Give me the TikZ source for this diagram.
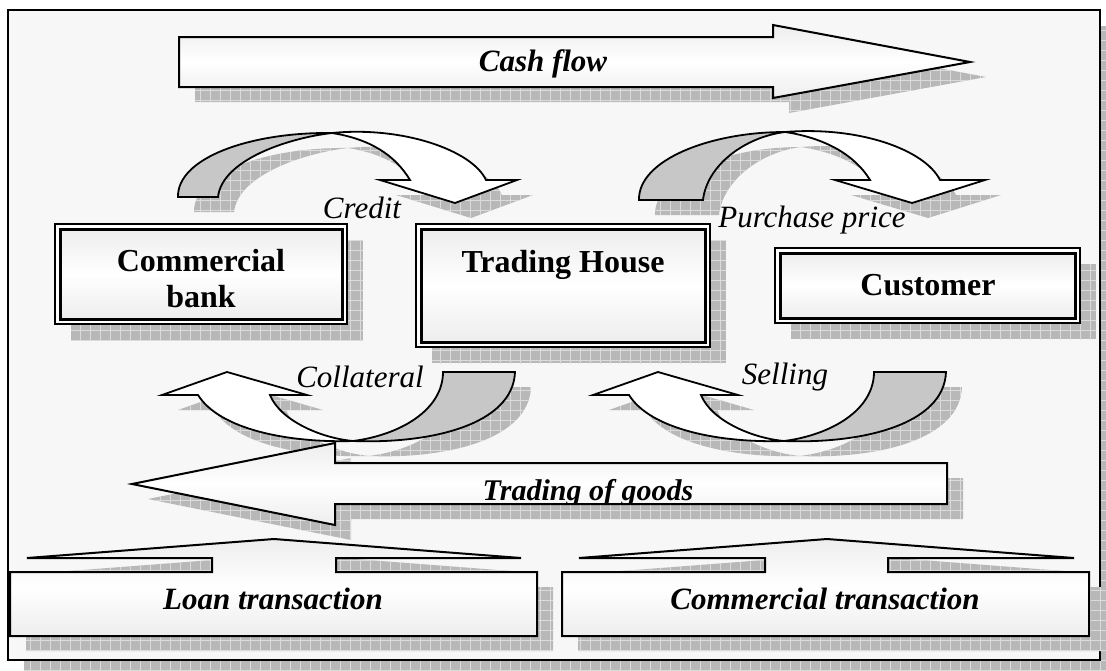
\documentclass[tikz,border=0pt]{standalone}
\usepackage{fontspec}
\setmainfont{Liberation Serif}
\usetikzlibrary{patterns.meta}
\pgfdeclarelayer{back}
\pgfdeclarelayer{shade}
\pgfdeclarelayer{rim}
\pgfsetlayers{back,shade,rim,main}

\tikzset{
  shadowfill/.style={fill=black!28, postaction={pattern={Hatch[distance=10pt,line width=0.6pt]}, pattern color=black!14}},
  flatarrow/.style={draw, line width=2pt, top color=black!7, bottom color=black!7, middle color=white},
  curvefront/.style={draw, line width=1.8pt, fill=white},
  curveback/.style={draw, line width=1.8pt, fill=black!22},
  innerbox/.style={draw, line width=3pt, top color=black!7, bottom color=black!7, middle color=white, inner sep=0pt, outer sep=0pt},
  outerrim/.style={draw, line width=1.8pt, fill=white},
  boxtext/.style={font=\fontsize{32}{37}\selectfont\bfseries, inner sep=0pt, anchor=base},
  flowtext/.style={font=\fontsize{31}{36}\selectfont\bfseries\itshape, inner sep=0pt, anchor=base},
  notetext/.style={font=\fontsize{31}{36}\selectfont\itshape, inner sep=0pt, anchor=base},
}

% outlines of the block arrows (x to the right, y downwards, in pt)
\newcommand\cashoutline{(179,37) -- (773,37) -- (773,25) -- (970,62) -- (773,98) -- (773,87) -- (179,87) -- cycle}
\newcommand\goodsoutline{(947,463) -- (335,463) -- (335,443) -- (132,484) -- (335,525) -- (335,504) -- (947,504) -- cycle}
\newcommand\loanoutline{(10,636) -- (10,572) -- (212,572) -- (212,558) -- (27,558) -- (274,539) -- (521,558) -- (336,558) -- (336,572) -- (537,572) -- (537,636) -- cycle}
\newcommand\tradeoutline{(562,636) -- (562,572) -- (765,572) -- (765,558) -- (579,558) -- (827,539) -- (1074,558) -- (888,558) -- (888,572) -- (1089,572) -- (1089,636) -- cycle}
% curved arrows: rear band and front band
\newcommand\creditrear{(178,197) .. controls (177,158) and (250,132) .. (332,133) .. controls (288,138) and (222,160) .. (218,197) -- cycle}
\newcommand\creditfront{(332,133) .. controls (402,126) and (472,150) .. (486,180) -- (517,180) -- (455,203) -- (380,180) -- (410,180) .. controls (395,155) and (370,139) .. (332,133) -- cycle}
\newcommand\pricerear{(639,200) .. controls (638,160) and (710,132) .. (785,132) .. controls (745,137) and (707,165) .. (703,200) -- cycle}
\newcommand\pricefront{(785,132) .. controls (860,126) and (925,150) .. (940,180) -- (985,180) -- (912,203) -- (835,180) -- (870,180) .. controls (855,155) and (825,138) .. (785,132) -- cycle}
\newcommand\backfront{(198,395) .. controls (220,430) and (290,443) .. (353,441) .. controls (320,438) and (280,420) .. (270,395) -- (307,395) -- (227,372) -- (162,395) -- cycle}
\newcommand\backrear{(353,441) .. controls (430,444) and (513,425) .. (515,372) -- (443,372) .. controls (443,410) and (400,435) .. (353,441) -- cycle}

\begin{document}
\begin{tikzpicture}[x=1pt, y=-1pt, line join=miter]
\useasboundingbox (0,0) rectangle (1106,670);

% outer frame
\begin{pgfonlayer}{back}
  \fill[shadowfill] (24,26) rectangle (1116,676);
  \draw[line width=2pt, fill=black!3] (8,10) rectangle (1100,660);
\end{pgfonlayer}

% drop shadows of the arrows
\begin{pgfonlayer}{shade}
  \begin{scope}[shift={(16,15)}]
    \fill[shadowfill] \cashoutline;
    \fill[shadowfill] \goodsoutline;
    \fill[shadowfill] \loanoutline;
    \fill[shadowfill] \tradeoutline;
    \fill[shadowfill] \creditrear;
    \fill[shadowfill] \creditfront;
    \fill[shadowfill] \pricerear;
    \fill[shadowfill] \pricefront;
    \fill[shadowfill] \backfront;
    \fill[shadowfill] \backrear;
    \begin{scope}[shift={(431,0)}]
      \fill[shadowfill] \backfront;
      \fill[shadowfill] \backrear;
    \end{scope}
  \end{scope}
\end{pgfonlayer}

% straight block arrows
\path[flatarrow] \cashoutline;
\path[flatarrow] \goodsoutline;
\path[flatarrow] \loanoutline;
\path[flatarrow] \tradeoutline;

% curved arrows above the parties
\path[curveback] \creditrear;
\path[curvefront] \creditfront;
\path[curveback] \pricerear;
\path[curvefront] \pricefront;

% curved arrows below the parties
\path[curveback] \backrear;
\path[curvefront] \backfront;
\begin{scope}[shift={(431,0)}]
  \path[curveback] \backrear;
  \path[curvefront] \backfront;
\end{scope}

% the three parties
\node[innerbox, minimum width=282pt, minimum height=90pt] (bank) at (201,274) {};
\node[innerbox, minimum width=284pt, minimum height=113pt] (house) at (563,285.5) {};
\node[innerbox, minimum width=295pt, minimum height=65pt] (customer) at (927.5,285.5) {};
\foreach \b in {bank,house,customer}{
  \begin{pgfonlayer}{rim}
    \draw[outerrim] ([shift={(-5,5)}]\b.south west) rectangle ([shift={(5,-5)}]\b.north east);
  \end{pgfonlayer}
  \begin{pgfonlayer}{shade}
    \fill[shadowfill] ([shift={(11,21)}]\b.south west) rectangle ([shift={(21,11)}]\b.north east);
  \end{pgfonlayer}
}

% texts
\node[boxtext] (banktop) at (201,271) {Commercial};
\node[boxtext] (bankbot) at (201,307) {bank};
\node[boxtext] (househead) at (563,272) {Trading House};
\node[boxtext] (custname) at (928,295) {Customer};
\node[flowtext] (cashlbl) at (543,71) {Cash flow};
\node[notetext] (creditlbl) at (362,218) {Credit};
\node[notetext] (pricelbl) at (812,227) {Purchase price};
\node[notetext] (collatlbl) at (360,387) {Collateral};
\node[notetext] (selllbl) at (785,384) {Selling};
\begin{scope}
  \clip (336,464) rectangle (946,503);
  \node[flowtext, font=\fontsize{30}{35}\selectfont\bfseries\itshape] (goodslbl) at (588,500) {Trading of goods};
\end{scope}
\node[flowtext] (loanlbl) at (273,609) {Loan transaction};
\node[flowtext] (comlbl) at (825,609) {Commercial transaction};
\end{tikzpicture}
\end{document}
